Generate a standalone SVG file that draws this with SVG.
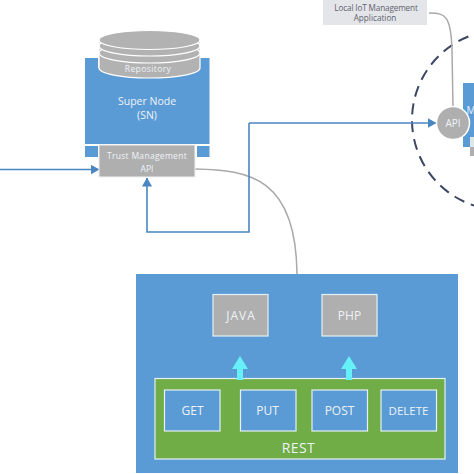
<svg xmlns="http://www.w3.org/2000/svg" width="474" height="474" viewBox="0 0 474 474">
<style>
text{font-family:"Open Sans","Liberation Sans",sans-serif;fill:#eef3f8;text-anchor:middle}
.blue{fill:#5b9bd5}
.box{stroke:#e4f0f4;stroke-width:1.2}
.gray{fill:#afafaf}
.cyl{fill:#b2b2b2;stroke:#fff;stroke-width:1.2}
.flow{fill:none;stroke:#4a86c0;stroke-width:1.6}
.link{fill:none;stroke:#a9a9a9;stroke-width:1.5}
</style>
<defs>
<marker id="ah" markerWidth="10" markerHeight="10" refX="8.5" refY="5" orient="auto" markerUnits="userSpaceOnUse"><path d="M0,0L9,5L0,10Z" fill="#4a86c0"/></marker>
</defs>
<rect width="474" height="474" fill="#fff"/>
<g id="local-iot-app"><rect x="323" y="0" width="104" height="25" fill="#e4e5e8"/>
<text x="376" y="10.500" font-size="8.200" letter-spacing="-.15" style="fill:#5f6470">Local IoT Management</text>
<text x="375" y="21" font-size="8.200" style="fill:#5f6470">Application</text></g>
<g id="iot-domain"><circle cx="502" cy="120" r="90" fill="none" stroke="#3d4663" stroke-width="2" stroke-dasharray="11 7"/></g>
<g id="manager-node"><rect x="463" y="83" width="11" height="64" class="blue"/>
<text x="471" y="114" font-size="10">M</text>
<rect x="470" y="137" width="4" height="10" fill="#dfe6e6"/><rect x="470" y="147" width="4" height="9" class="gray"/></g>
<g id="connectors">
<path class="link" d="M429,13C445,13 451,15 452,50L453,107"/>
<path class="link" d="M195,169C250,170 296,178 297,274"/>
<path class="flow" marker-end="url(#ah)" d="M0,169.500H99"/>
<path class="flow" marker-end="url(#ah)" d="M249,123V232H147V178"/>
<path class="flow" marker-end="url(#ah)" d="M249,123H436"/>
</g>
<g id="api"><circle cx="453" cy="123" r="16.500" fill="#afafaf" stroke="#fff" stroke-width="1.500"/>
<text x="453" y="127" font-size="10">API</text></g>
<g id="super-node">
<rect x="85" y="58" width="13" height="10" class="blue"/><rect x="197" y="58" width="12.500" height="10" class="blue"/>
<rect x="85" y="146" width="13" height="11" class="blue"/><rect x="197" y="146" width="12.500" height="11" class="blue"/>
<rect x="85" y="68" width="124.500" height="76" class="blue"/>
<text x="147" y="105" font-size="10.500">Super Node</text>
<text x="147" y="119" font-size="10.500">(SN)</text>
</g>
<g id="repository">
<path class="cyl" d="M99,41V68A50.500,10 0 0 0 200,68V41Z"/>
<ellipse class="cyl" cx="149.500" cy="53" rx="50.500" ry="10"/>
<ellipse class="cyl" cx="149.500" cy="46" rx="50.500" ry="10"/>
<ellipse class="cyl" cx="149.500" cy="40" rx="50.500" ry="9.500"/>
<text x="148" y="72" font-size="8.500" letter-spacing=".4">Repository</text>
</g>
<g id="trust-api"><rect x="99" y="145" width="96" height="32" class="gray" stroke="#eef0f2"/>
<text x="147" y="158.500" font-size="8.500" letter-spacing=".3">Trust Management</text>
<text x="147" y="172" font-size="8.500">API</text></g>
<g id="rest-container"><rect x="136" y="274" width="322" height="199" class="blue"/></g>
<g id="java"><rect x="213" y="294.500" width="55" height="41.500" class="gray box"/><text x="241" y="320" font-size="12" letter-spacing="1">JAVA</text></g>
<g id="php"><rect x="322" y="294.500" width="55" height="41.500" class="gray box"/><text x="349.500" y="320" font-size="12">PHP</text></g>
<g id="rest"><rect x="155" y="378.500" width="290" height="80.500" fill="#70ad47" class="box"/><text x="298.500" y="453" font-size="14" letter-spacing=".4">REST</text></g>
<g id="get"><rect x="164.500" y="390" width="55.500" height="41" class="blue box"/><text x="192.500" y="415" font-size="12">GET</text></g>
<g id="put"><rect x="240.500" y="390" width="55.500" height="41" class="blue box"/><text x="267.500" y="415" font-size="12">PUT</text></g>
<g id="post"><rect x="312" y="390" width="55.500" height="41" class="blue box"/><text x="339.500" y="415" font-size="12">POST</text></g>
<g id="delete"><rect x="381" y="390" width="55.500" height="41" class="blue box"/><text x="408.500" y="415" font-size="11.500">DELETE</text></g>
<g id="rest-arrows" fill="#66f0f8">
<path d="M240,356L248,369H243V380H237V369H232Z"/>
<path d="M349,356L357,369H352V380H346V369H341Z"/>
</g>
</svg>
